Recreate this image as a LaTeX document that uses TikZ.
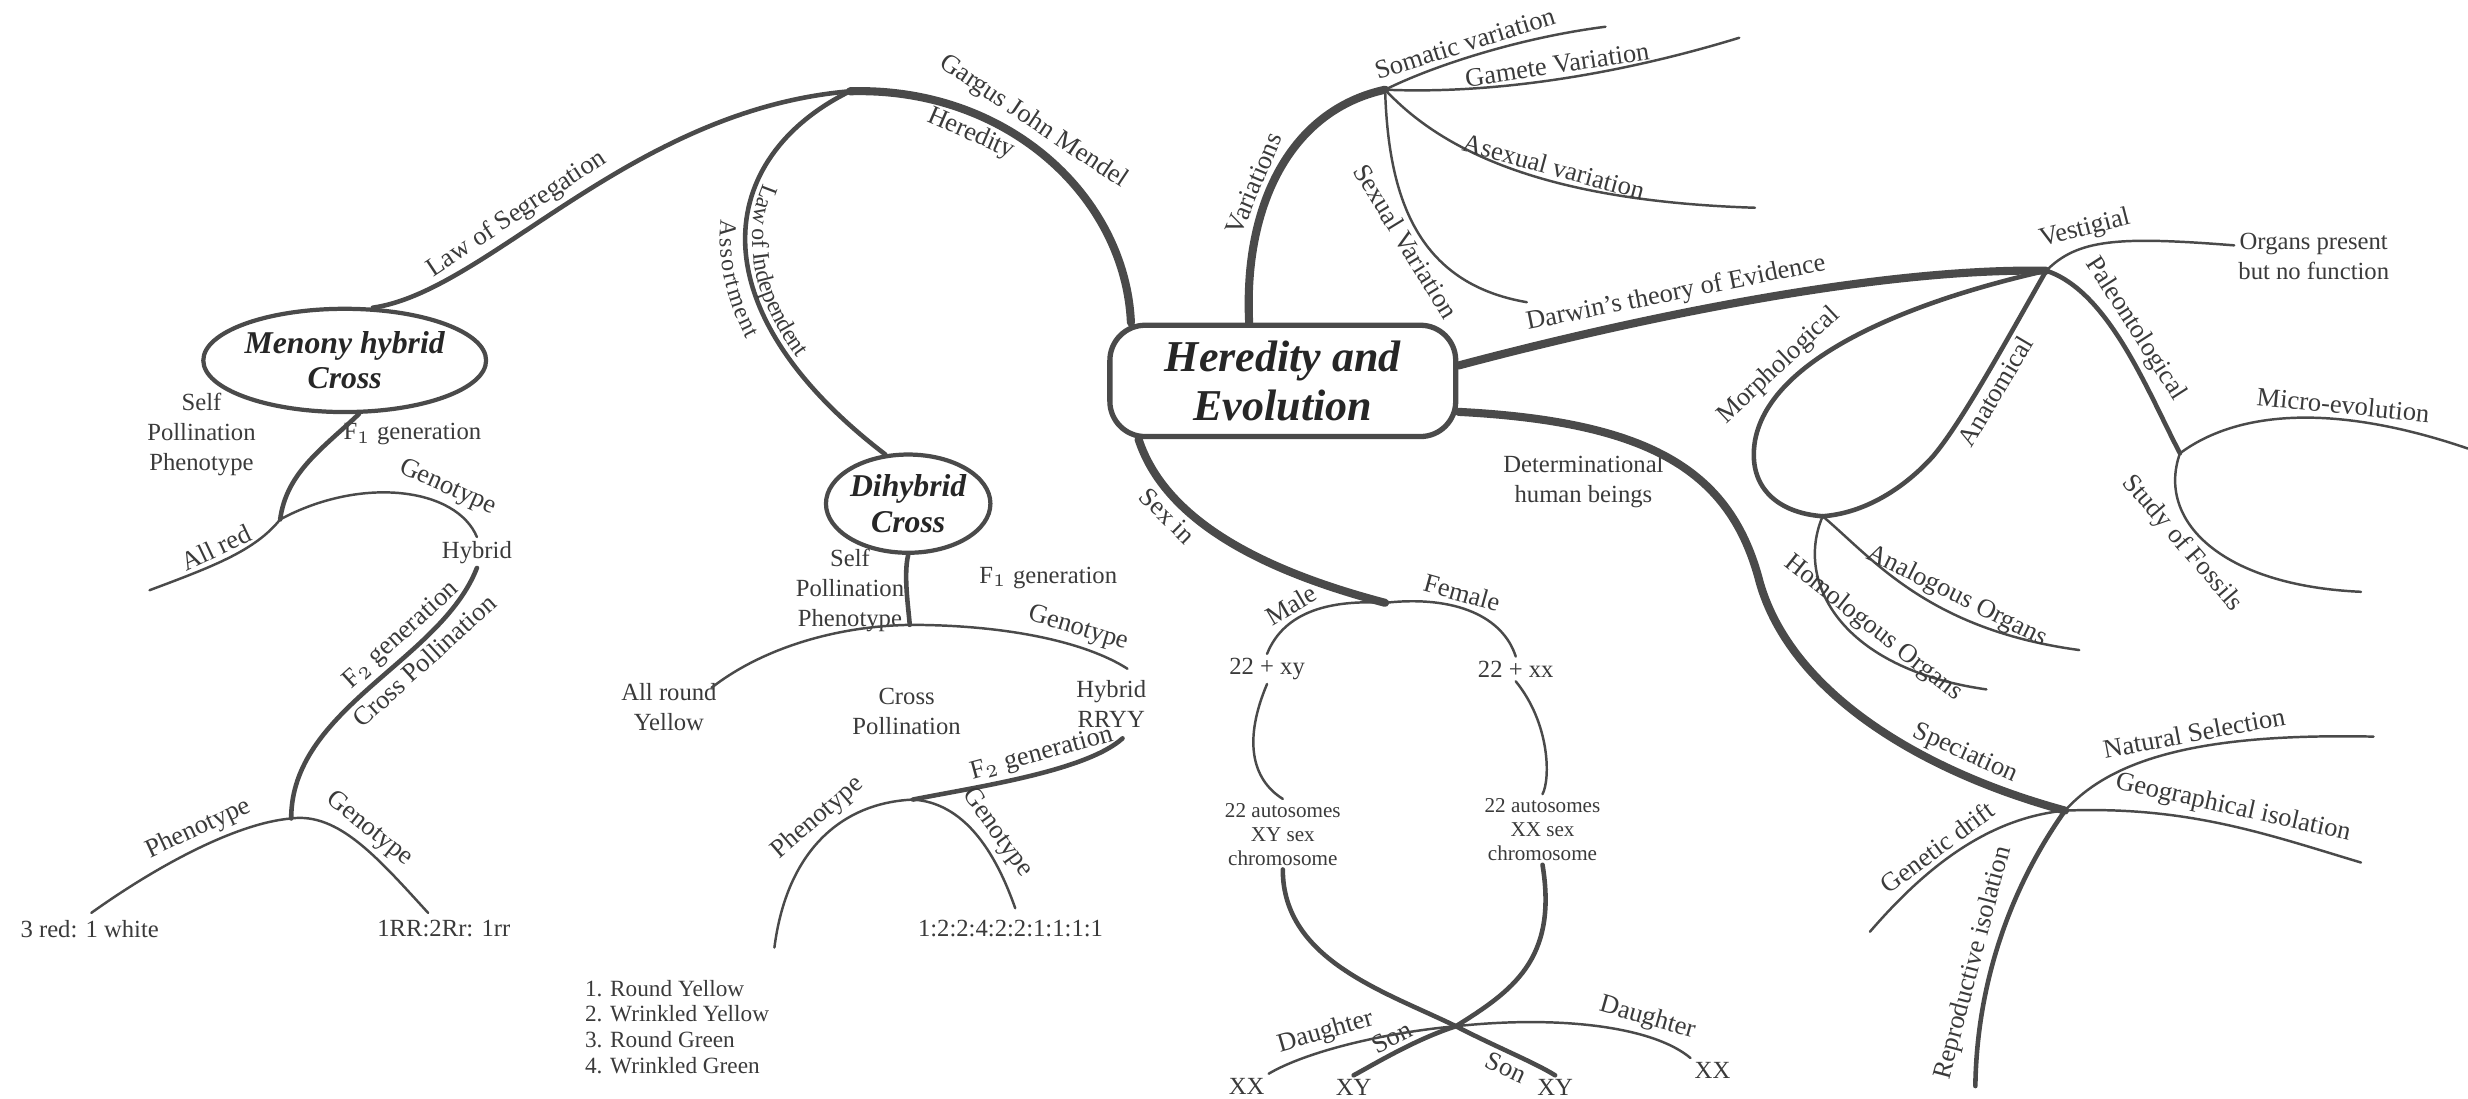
\documentclass[tikz,border=0pt]{standalone}
\usepackage{fontspec}
\setmainfont{Liberation Serif}
\usetikzlibrary{shapes.geometric, decorations.text}

\definecolor{branchgray}{HTML}{4A4A4A}
\definecolor{textgray}{HTML}{3A3A3A}

\tikzset{
  topicbox/.style={draw=branchgray, line width=1.5pt, rounded corners=10pt,
    minimum width=3.45cm, minimum height=1.11cm, align=center,
    font=\fontsize{12.5}{14}\selectfont\bfseries\itshape, text=black!85},
  crossnode/.style={ellipse, draw=branchgray, line width=1.2pt, inner sep=0pt,
    align=center, font=\fontsize{9}{10}\selectfont\bfseries\itshape, text=black!85},
  leaf/.style={align=center, inner sep=1pt, font=\fontsize{7}{8.5}\selectfont, text=textgray},
  smallleaf/.style={leaf, font=\fontsize{6}{6.8}\selectfont},
  tag/.style={sloped, inner sep=1.2pt, font=\fontsize{7.5}{9}\selectfont, text=textgray},
  bigline/.style={draw=branchgray, line width=2.3pt, line cap=round},
  midline/.style={draw=branchgray, line width=1.3pt, line cap=round},
  thinline/.style={draw=branchgray, line width=0.7pt, line cap=round},
}

\begin{document}
\begin{tikzpicture}[x=0.0157cm, y=-0.0157cm]
\useasboundingbox (0,0) rectangle (1568,698);

% main topics
\node[topicbox] (hered) at (815,242) {Heredity and\\Evolution};
\node[crossnode, minimum width=2.62cm, minimum height=1.03cm] (mono) at (219,229) {Menony hybrid\\Cross};
\node[crossnode, minimum width=1.6cm, minimum height=0.98cm] (dihy) at (577,320) {Dihybrid\\Cross};

% branch points
\coordinate (mend) at (540,58);
\coordinate (mj1) at (178,330);
\coordinate (mj2) at (185,520);
\coordinate (dj1) at (578,397);
\coordinate (dj2) at (580,508);
\coordinate (varj) at (880,57);
\coordinate (darj) at (1300,172);
\coordinate (palj) at (1385,288);
\coordinate (tear) at (1158,328);
\coordinate (specj) at (1312,515);
\coordinate (sexj) at (880,383);
\coordinate (swap) at (925,652);

% free ends
\coordinate (allredend) at (95,375);
\coordinate (phenAend) at (58,580);
\coordinate (genoAend) at (272,580);
\coordinate (roundend) at (452,437);
\coordinate (phenBend) at (492,602);
\coordinate (genoBend) at (645,577);
\coordinate (somend) at (1020,17);
\coordinate (gamend) at (1105,24);
\coordinate (asexend) at (1115,132);
\coordinate (sexend) at (970,192);
\coordinate (microend) at (1568,285);
\coordinate (fossilend) at (1500,376);
\coordinate (analend) at (1321,413);
\coordinate (homoend) at (1262,438);
\coordinate (natend) at (1508,468);
\coordinate (geoend) at (1500,548);
\coordinate (driftend) at (1188,592);
\coordinate (reproend) at (1255,690);

% text leaves
\node[leaf] (selfA) at (128,276) {Self\\Pollination\\Phenotype};
\node[leaf] (f1A) at (262,276) {F$_1$ generation};
\node[leaf] (hybA) at (303,351) {Hybrid};
\node[leaf] (redwhite) at (57,590) {3 red: 1 white};
\node[leaf] (rrratio) at (282,590) {1RR:2Rr: 1rr};
\node[leaf] (selfB) at (540,375) {Self\\Pollination\\Phenotype};
\node[leaf] (f1B) at (666,367) {F$_1$ generation};
\node[leaf] (allround) at (425,449) {All round\\Yellow};
\node[leaf] (crossB) at (576,452) {Cross\\Pollination};
\node[leaf, inner sep=3pt] (hybB) at (706,447) {Hybrid\\RRYY};
\node[leaf, align=left, anchor=north west, font=\fontsize{6.6}{7.3}\selectfont] (peas) at (369,620) {1. Round Yellow\\2. Wrinkled Yellow\\3. Round Green\\4. Wrinkled Green};
\node[leaf] (rryy) at (642,590) {1:2:2:4:2:2:1:1:1:1};
\node[leaf] (organs) at (1470,163) {Organs present\\but no function};
\node[leaf] (deter) at (1006,306) {Determinational\\human beings};
\node[leaf] (xy22) at (805,425) {22 + xy};
\node[leaf] (xx22) at (963,425) {22 + xx};
\node[smallleaf] (autoA) at (815,530) {22 autosomes\\XY sex\\chromosome};
\node[smallleaf] (autoB) at (980,527) {22 autosomes\\XX sex\\chromosome};
\node[leaf] (xxL) at (792,690) {XX};
\node[leaf] (xyL) at (860,691) {XY};
\node[leaf] (xyR) at (988,691) {XY};
\node[leaf] (xxR) at (1088,680) {XX};

% Mendel
\draw[midline] (mono.62) .. controls (310,185) and (400,70) .. (mend)
  node[tag, above, pos=0.4] {Law of Segregation};
\draw[bigline] (mend) .. controls (640,55) and (715,125) .. (hered.159)
  node[tag, above, pos=0.42] {Gargus John Mendel}
  node[tag, below, pos=0.3] {Heredity};
\draw[midline,
  postaction={decorate, decoration={text along path, text align=center, raise=2pt,
    text={|\color{textgray}\fontsize{6.8}{8}\selectfont|Law of Independent}}},
  postaction={decorate, decoration={text along path, text align=center, raise=-7.2pt,
    text={|\color{textgray}\fontsize{6.8}{8}\selectfont|Assortment}}}]
  (mend) .. controls (455,100) and (440,195) .. (dihy.115);

% monohybrid cross
\draw[midline] (mono.-75) .. controls (205,285) and (182,300) .. (mj1);
\draw[thinline] (mj1) .. controls (162,350) and (135,360) .. (allredend)
  node[tag, above, pos=0.55] {All red};
\draw[thinline] (mj1) .. controls (230,302) and (290,310) .. (hybA.north)
  node[tag, above, pos=0.7] {Genotype};
\draw[midline] (hybA.south) .. controls (280,420) and (185,450) .. (mj2)
  node[tag, above, pos=0.33] {F$_2$ generation}
  node[tag, below, pos=0.33] {Cross Pollination};
\draw[thinline] (mj2) .. controls (150,523) and (100,550) .. (phenAend)
  node[tag, above, pos=0.45] {Phenotype};
\draw[thinline] (mj2) .. controls (215,516) and (240,545) .. (genoAend)
  node[tag, above, pos=0.5] {Genotype};

% dihybrid cross
\draw[midline] (dihy.south) .. controls (574,365) and (577,385) .. (dj1);
\draw[thinline] (dj1) .. controls (525,398) and (480,415) .. (roundend);
\draw[thinline] (dj1) .. controls (640,397) and (690,408) .. (hybB.65)
  node[tag, above, pos=0.66] {Genotype};
\draw[midline] (hybB.-72) .. controls (690,490) and (620,500) .. (dj2)
  node[tag, above, pos=0.42] {F$_2$ generation};
\draw[thinline] (dj2) .. controls (535,510) and (500,540) .. (phenBend)
  node[tag, above, pos=0.45] {Phenotype};
\draw[thinline] (dj2) .. controls (612,510) and (632,540) .. (genoBend)
  node[tag, above, pos=0.58] {Genotype};

% variations
\draw[bigline] (hered.120) .. controls (790,130) and (820,70) .. (varj)
  node[tag, allow upside down, above, pos=0.42] {Variations};
\draw[thinline] (varj) .. controls (910,42) and (965,24) .. (somend)
  node[tag, above, pos=0.45] {Somatic variation};
\draw[thinline] (varj) .. controls (950,60) and (1030,47) .. (gamend)
  node[tag, above, pos=0.5] {Gamete Variation};
\draw[thinline] (varj) .. controls (920,100) and (990,128) .. (asexend)
  node[tag, above, pos=0.58] {Asexual variation};
\draw[thinline] (varj) .. controls (882,125) and (900,180) .. (sexend)
  node[tag, below, pos=0.52] {Sexual Variation};

% evidences
\draw[bigline] (hered.5) .. controls (1010,210) and (1180,170) .. (darj)
  node[tag, above, pos=0.42] {Darwin's theory of Evidence};
\draw[thinline] (darj) .. controls (1320,152) and (1345,150) .. (organs.172)
  node[tag, above, pos=0.38] {Vestigial};
\draw[midline] (darj) .. controls (1340,185) and (1365,250) .. (palj)
  node[tag, above, pos=0.46] {Paleontological};
\draw[thinline] (palj) .. controls (1420,262) and (1480,255) .. (microend)
  node[tag, above, pos=0.66] {Micro-evolution};
\draw[thinline] (palj) .. controls (1370,330) and (1410,372) .. (fossilend)
  node[tag, below, pos=0.42] {Study of Fossils};
\draw[midline] (darj) .. controls (1220,190) and (1125,225) .. (1115,280)
  node[tag, above, pos=0.74] {Morphological}
  .. controls (1110,310) and (1130,326) .. (tear);
\draw[midline] (darj) .. controls (1270,225) and (1245,270) .. (1228,290)
  node[tag, below, pos=0.5] {Anatomical}
  .. controls (1210,310) and (1185,326) .. (tear);
\draw[thinline] (tear) .. controls (1190,355) and (1225,400) .. (analend)
  node[tag, above, pos=0.64] {Analogous Organs};
\draw[thinline] (tear) .. controls (1140,370) and (1170,425) .. (homoend)
  node[tag, above, pos=0.62] {Homologous Organs};

% speciation
\draw[bigline] (hered.-10) .. controls (1050,268) and (1100,300) .. (1118,370)
  .. controls (1138,440) and (1220,490) .. (specj)
  node[tag, above, pos=0.74] {Speciation};
\draw[thinline] (specj) .. controls (1345,478) and (1410,466) .. (natend)
  node[tag, above, pos=0.55] {Natural Selection};
\draw[thinline] (specj) .. controls (1390,512) and (1440,530) .. (geoend)
  node[tag, above, pos=0.52] {Geographical isolation};
\draw[thinline] (specj) .. controls (1260,520) and (1220,555) .. (driftend)
  node[tag, above, pos=0.55] {Genetic drift};
\draw[midline] (specj) .. controls (1280,560) and (1256,620) .. (reproend)
  node[tag, above, pos=0.62] {Reproductive isolation};

% sex determination
\draw[bigline] (hered.202) .. controls (740,330) and (800,362) .. (sexj)
  node[tag, below, pos=0.3] {Sex in};
\draw[thinline] (sexj) .. controls (846,381) and (816,388) .. (xy22.north)
  node[tag, above, pos=0.62] {Male};
\draw[thinline] (sexj) .. controls (925,378) and (955,392) .. (xx22.north)
  node[tag, above, pos=0.4] {Female};
\draw[thinline] (xy22.south) .. controls (790,470) and (795,495) .. (autoA.north);
\draw[thinline] (xx22.south) .. controls (985,460) and (985,495) .. (autoB.north);
\draw[midline] (autoA.south) .. controls (815,610) and (880,630) .. (swap)
  .. controls (950,665) and (975,675) .. (xyR.north)
  node[tag, below, pos=0.5] {Son};
\draw[midline] (autoB.south) .. controls (990,610) and (960,630) .. (swap)
  .. controls (900,660) and (875,675) .. (xyL.north)
  node[tag, above, pos=0.5] {Son};
\draw[thinline] (swap) .. controls (880,656) and (830,668) .. (xxL.north east)
  node[tag, above, pos=0.6] {Daughter};
\draw[thinline] (swap) .. controls (990,645) and (1050,652) .. (xxR.north west)
  node[tag, above, pos=0.7] {Daughter};

\end{tikzpicture}
\end{document}
